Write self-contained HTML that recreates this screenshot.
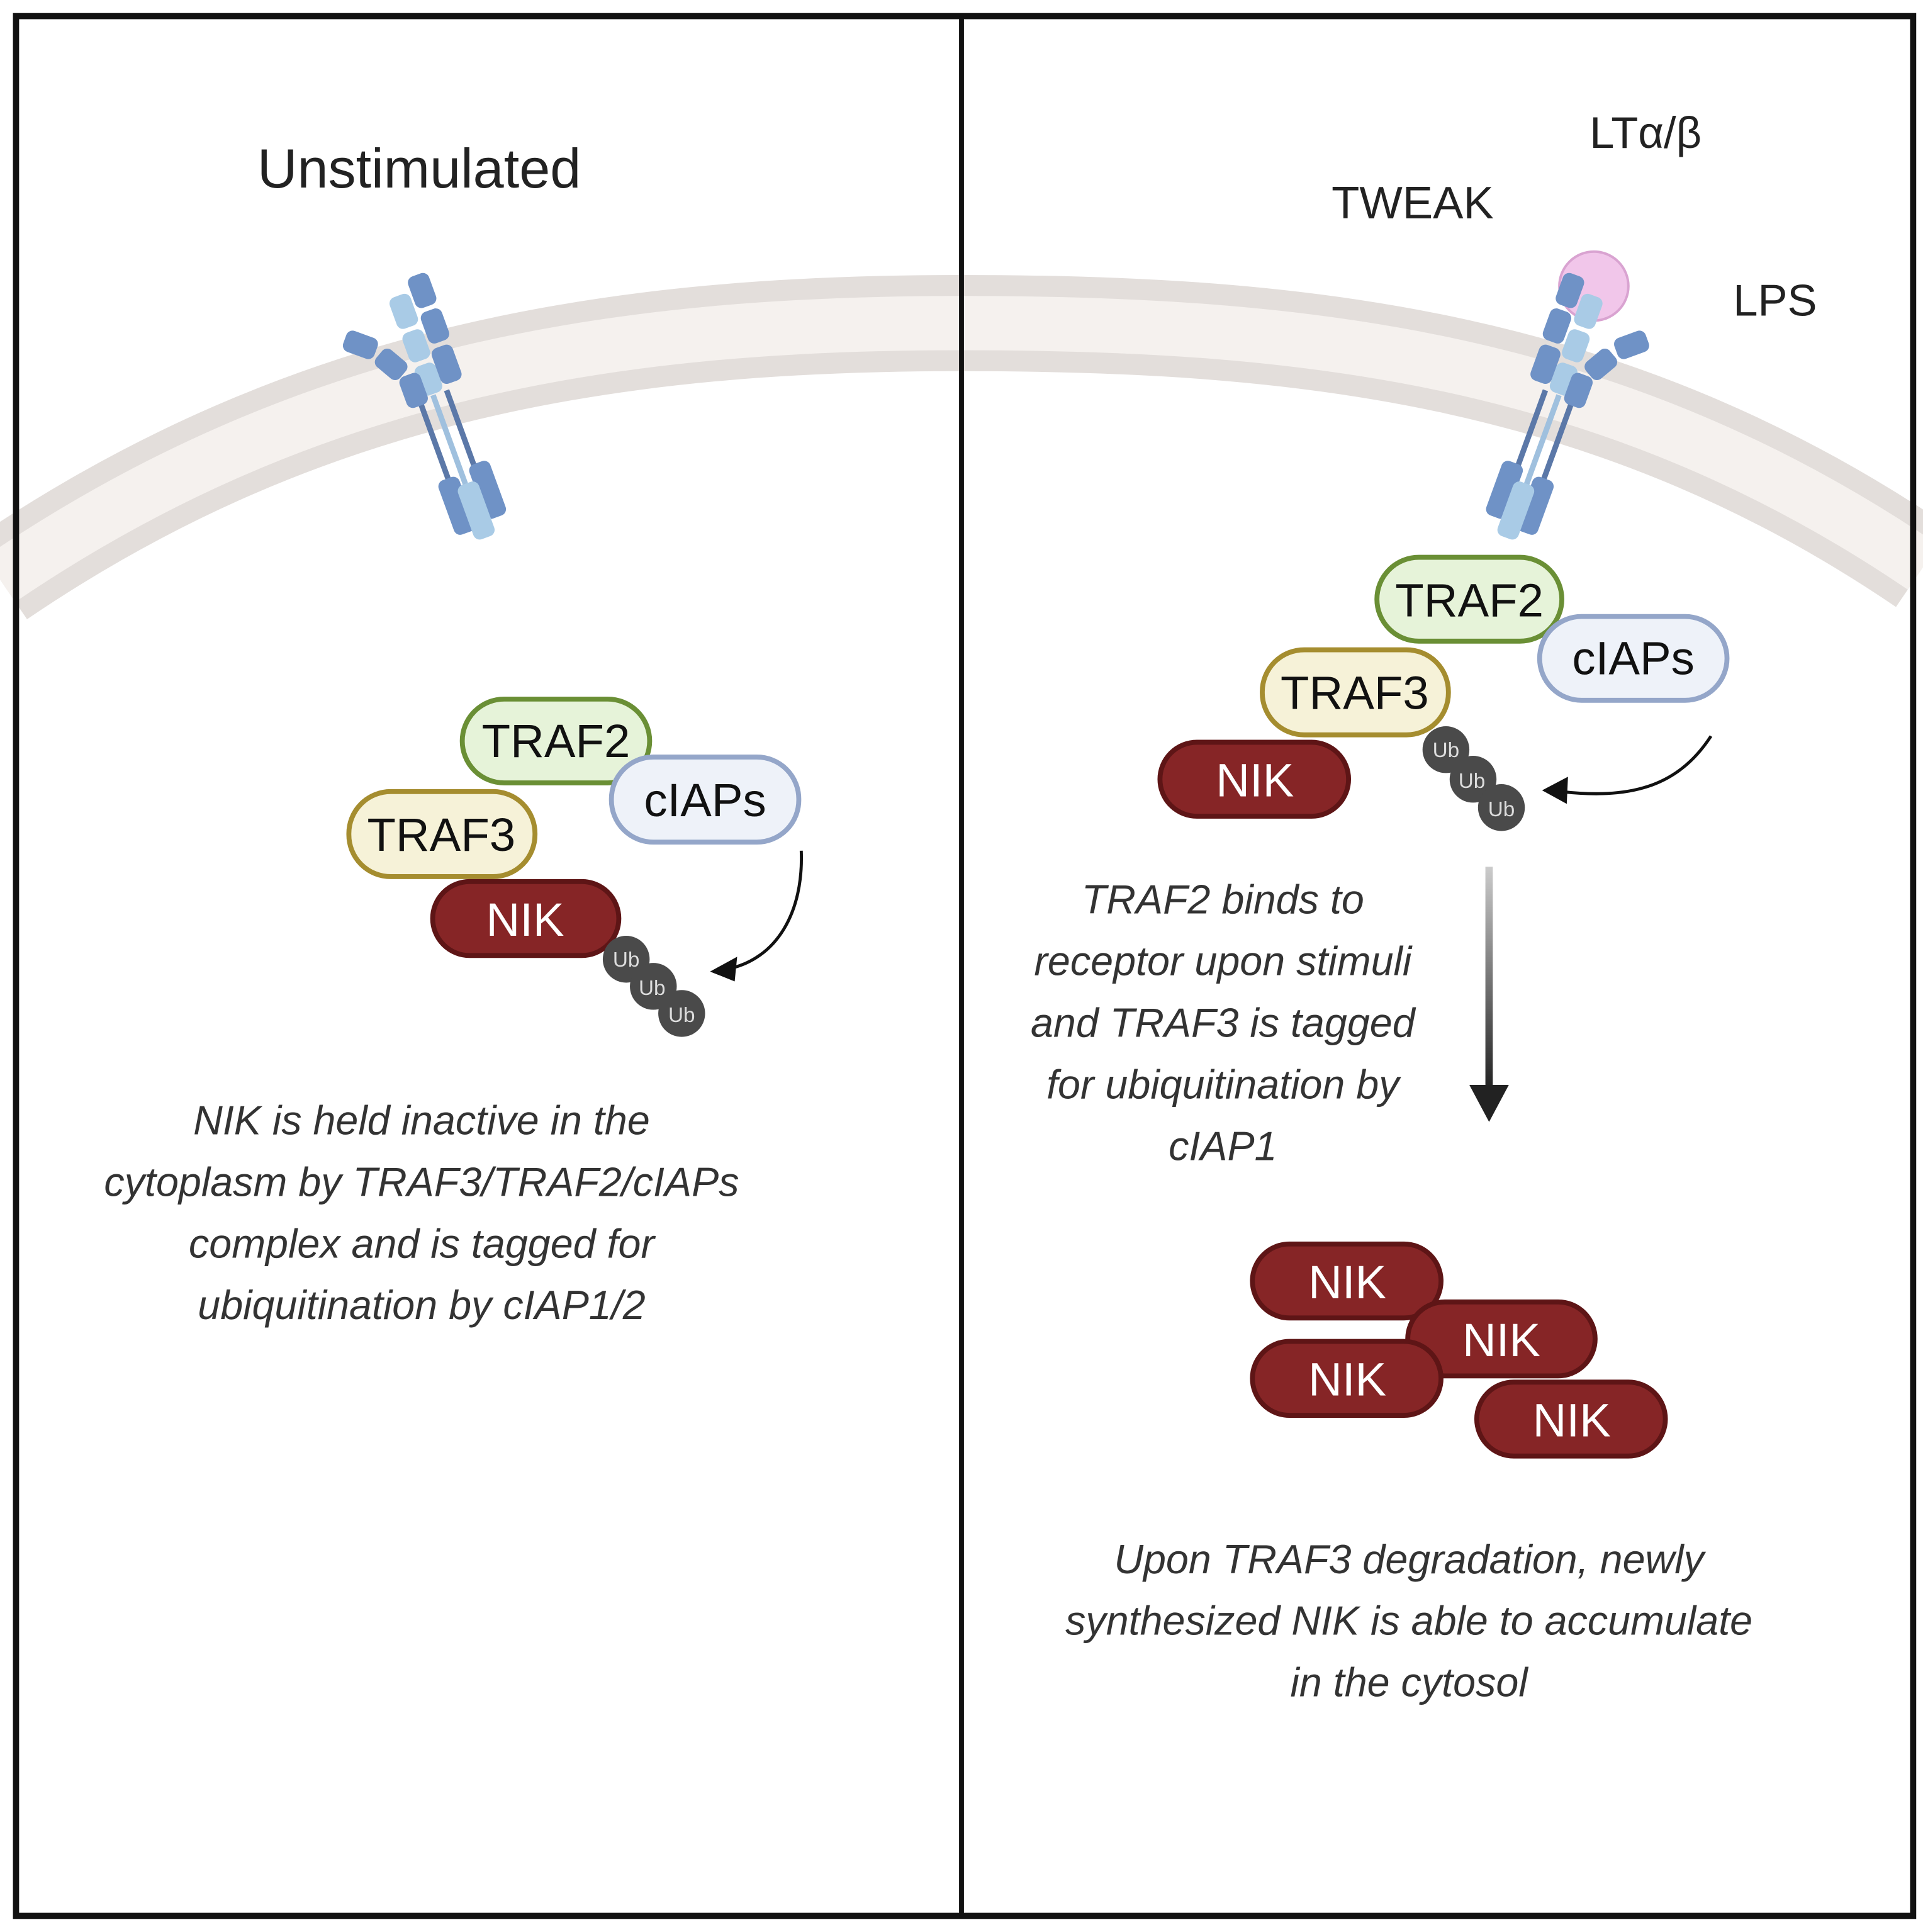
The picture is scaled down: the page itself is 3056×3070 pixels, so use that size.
<!DOCTYPE html>
<html><head><meta charset="utf-8"><style>
html,body{margin:0;padding:0;background:#fff}
svg{display:block}
text{font-family:"Liberation Sans",sans-serif}
.it{font-style:italic;font-size:33px;fill:#333;text-anchor:middle}
.lbl{font-size:38px;text-anchor:middle;fill:#111}
.w{fill:#fff}
</style></head><body>
<svg width="3056" height="3070" viewBox="0 0 1560 1567" xmlns="http://www.w3.org/2000/svg">
<defs>
<linearGradient id="ag" x1="0" y1="0" x2="0" y2="1"><stop offset="0" stop-color="#ccc"/><stop offset="1" stop-color="#222"/></linearGradient>
<g id="rec">
 <line x1="-12" y1="-5" x2="-12" y2="80" stroke="#5b78a8" stroke-width="5"/>
 <line x1="14" y1="-5" x2="14" y2="80" stroke="#5b78a8" stroke-width="5"/>
 <line x1="1" y1="-5" x2="1" y2="90" stroke="#9fc0de" stroke-width="5"/>
 <rect x="-8" y="-100" width="20" height="30" rx="6" fill="#a9cbe6"/>
 <rect x="-8" y="-66" width="20" height="28" rx="6" fill="#a9cbe6"/>
 <rect x="-8" y="-34" width="20" height="28" rx="6" fill="#a9cbe6"/>
 <rect x="-55" y="-85" width="20" height="30" rx="6" fill="#6f92c6" transform="rotate(-50 -45 -70)"/>
 <rect x="-35" y="-58" width="20" height="28" rx="6" fill="#6f92c6" transform="rotate(-30 -25 -44)"/>
 <rect x="-24" y="-30" width="20" height="30" rx="6" fill="#6f92c6"/>
 <rect x="14" y="-112" width="20" height="30" rx="6" fill="#6f92c6"/>
 <rect x="14" y="-78" width="20" height="30" rx="6" fill="#6f92c6"/>
 <rect x="12" y="-44" width="20" height="34" rx="6" fill="#6f92c6"/>
 <rect x="-23" y="70" width="20" height="52" rx="6" fill="#6f92c6"/>
 <rect x="8" y="66" width="20" height="52" rx="6" fill="#6f92c6"/>
 <rect x="-8" y="80" width="20" height="52" rx="6" fill="#a9cbe6"/>
</g>
</defs>
<rect x="0" y="0" width="1560" height="1567" fill="#fff"/>
<path d="M 0 470 C 250 300 500 262 780 262 C 1060 262 1310 290 1560 460" fill="none" stroke="#e3dedb" stroke-width="78"/>
<path d="M 0 470 C 250 300 500 262 780 262 C 1060 262 1310 290 1560 460" fill="none" stroke="#f5f1ee" stroke-width="44"/>
<use href="#rec" transform="translate(352 325) rotate(-20) scale(0.9)"/>
<circle cx="1293" cy="232" r="28" fill="#f1c6ea" stroke="#d9a3d1" stroke-width="2"/>
<use href="#rec" transform="translate(1264 325) rotate(20) scale(-0.9 0.9)"/>
<rect x="13" y="13" width="1539" height="1541" fill="none" stroke="#111" stroke-width="5"/>
<line x1="780" y1="13" x2="780" y2="1554" stroke="#111" stroke-width="4"/>
<text x="340" y="152" font-size="45" text-anchor="middle" fill="#222">Unstimulated</text>
<text x="1146" y="177" font-size="37" text-anchor="middle" fill="#222">TWEAK</text>
<text x="1335" y="120" font-size="36" text-anchor="middle" fill="#222">LTα/β</text>
<text x="1440" y="256" font-size="36" text-anchor="middle" fill="#222">LPS</text>
<rect x="375" y="567" width="152" height="68" rx="34" fill="#e6f3d9" stroke="#6a8f35" stroke-width="4"/>
<text class="lbl" x="451" y="614">TRAF2</text>
<rect x="496" y="614" width="152" height="69" rx="34" fill="#eef2f9" stroke="#94a6c9" stroke-width="4"/>
<text class="lbl" x="572" y="662">cIAPs</text>
<rect x="283" y="642" width="151" height="69" rx="34" fill="#f6f2d8" stroke="#a58d2f" stroke-width="4"/>
<text class="lbl" x="358" y="690">TRAF3</text>
<rect x="351" y="715" width="151" height="60" rx="30" fill="#862526" stroke="#5e1516" stroke-width="4"/>
<text class="lbl w" x="426" y="759">NIK</text>
<g fill="#4a4a4a"><circle cx="508" cy="778" r="19"/><circle cx="530" cy="800" r="19"/><circle cx="553" cy="822" r="19"/></g>
<g fill="#ddd" font-size="17" text-anchor="middle"><text x="508" y="784">Ub</text><text x="529" y="807">Ub</text><text x="553" y="829">Ub</text></g>
<path d="M 650 690 C 652 740 630 778 590 786" fill="none" stroke="#111" stroke-width="2.5"/>
<polygon points="576,788 598,776 596,796" fill="#111"/>
<rect x="1117" y="452" width="150" height="68" rx="34" fill="#e6f3d9" stroke="#6a8f35" stroke-width="4"/>
<text class="lbl" x="1192" y="500">TRAF2</text>
<rect x="1249" y="500" width="152" height="68" rx="34" fill="#eef2f9" stroke="#94a6c9" stroke-width="4"/>
<text class="lbl" x="1325" y="547">cIAPs</text>
<rect x="1024" y="527" width="151" height="69" rx="34" fill="#f6f2d8" stroke="#a58d2f" stroke-width="4"/>
<text class="lbl" x="1099" y="575">TRAF3</text>
<rect x="941" y="602" width="153" height="60" rx="30" fill="#862526" stroke="#5e1516" stroke-width="4"/>
<text class="lbl w" x="1018" y="646">NIK</text>
<g fill="#4a4a4a"><circle cx="1173" cy="608" r="19"/><circle cx="1195" cy="632" r="19"/><circle cx="1218" cy="655" r="19"/></g>
<g fill="#ddd" font-size="17" text-anchor="middle"><text x="1173" y="614">Ub</text><text x="1194" y="639">Ub</text><text x="1218" y="662">Ub</text></g>
<path d="M 1388 597 C 1360 640 1320 648 1266 642" fill="none" stroke="#111" stroke-width="2.5"/>
<polygon points="1251,641 1272,630 1271,652" fill="#111"/>
<rect x="1205" y="703" width="6" height="180" fill="url(#ag)"/>
<polygon points="1192,880 1224,880 1208,910" fill="#222"/>
<rect x="1016" y="1009" width="153" height="60" rx="30" fill="#862526" stroke="#5e1516" stroke-width="4"/>
<text class="lbl w" x="1093" y="1053">NIK</text>
<rect x="1142" y="1056" width="152" height="60" rx="30" fill="#862526" stroke="#5e1516" stroke-width="4"/>
<text class="lbl w" x="1218" y="1100">NIK</text>
<rect x="1016" y="1088" width="153" height="60" rx="30" fill="#862526" stroke="#5e1516" stroke-width="4"/>
<text class="lbl w" x="1093" y="1132">NIK</text>
<rect x="1198" y="1121" width="153" height="60" rx="30" fill="#862526" stroke="#5e1516" stroke-width="4"/>
<text class="lbl w" x="1275" y="1165">NIK</text>
<text class="it" x="342" y="920">NIK is held inactive in the</text>
<text class="it" x="342" y="970">cytoplasm by TRAF3/TRAF2/cIAPs</text>
<text class="it" x="342" y="1020">complex and  is tagged for</text>
<text class="it" x="342" y="1070">ubiquitination by cIAP1/2</text>
<text class="it" x="992" y="741">TRAF2 binds to</text>
<text class="it" x="992" y="791">receptor upon stimuli</text>
<text class="it" x="992" y="841">and TRAF3 is  tagged</text>
<text class="it" x="992" y="891">for ubiquitination by</text>
<text class="it" x="992" y="941">cIAP1</text>
<text class="it" x="1143" y="1276">Upon TRAF3 degradation, newly</text>
<text class="it" x="1143" y="1326">synthesized NIK is able to accumulate</text>
<text class="it" x="1143" y="1376">in the cytosol</text>
</svg>
</body></html>
